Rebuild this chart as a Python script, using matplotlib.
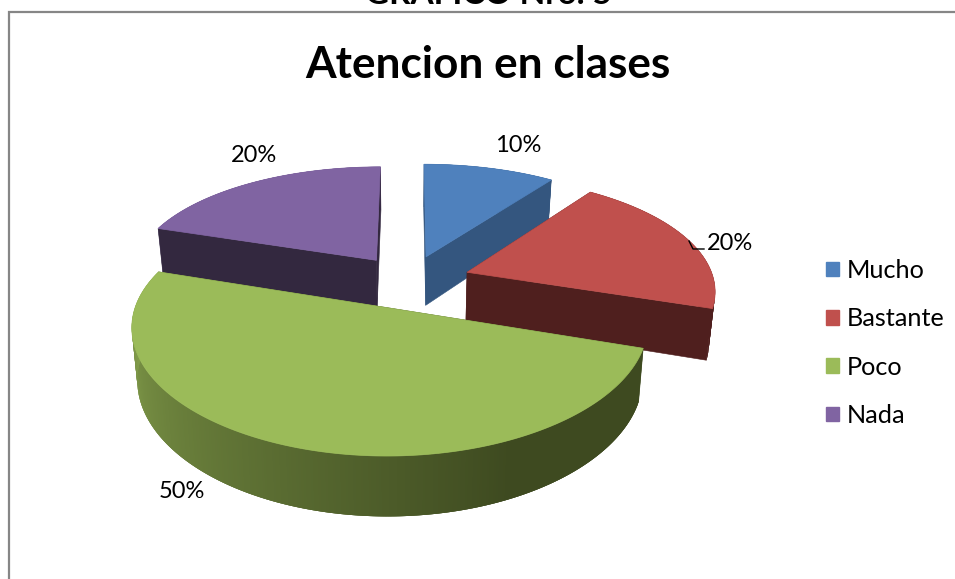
import numpy as np
import matplotlib
matplotlib.use('Agg')
import matplotlib.pyplot as plt
from matplotlib.patches import Patch, Polygon

# --- datos del grafico ---
categorias = ['Mucho', 'Bastante', 'Poco', 'Nada']
valores = [10, 20, 50, 20]
etiquetas = ['10%', '20%', '50%', '20%']
titulo = 'Atencion en clases'
encabezado = 'GRAFICO Nro. 5'

# --- estilos ---
colores = ['#4f81bd', '#c0504d', '#9bbb59', '#8064a2']
colores_cara = ['#34567f', '#4f1f1e', '#3e4a20', '#33283f']
explosion = [0.23, 0.25, 0.24, 0.23]
pos_etiquetas = [(518, 146), (730, 243), (182, 491), (254, 156)]
FUENTE = 'Lato'

# --- proyeccion del pastel (perspectiva simple), en pixeles ---
X0, Y0 = 409, 281
RX, RY = 247, 114.5
KX, KY = 0.14, 0.16
ALTO = 50
TAPER = 0.02


def proyectar(u, v, z=0.0):
    px = X0 + RX * u / (1 + KX * v) * (1 - TAPER * z)
    py = Y0 - RY * v / (1 + KY * v) + z * ALTO / (1 + KX * v)
    return np.column_stack([px, py])


def color_pared(hex_color, cara, theta):
    # pared exterior: clara a la izquierda, oscura desde abajo a la derecha
    t = np.clip((theta - 155) / (275 - 155), 0, 1)
    base = np.array(matplotlib.colors.to_rgb(hex_color))
    osc = np.array(matplotlib.colors.to_rgb(cara))
    return osc + (base * 0.86 - osc) * t


fig = plt.figure(figsize=(9.55, 5.79), dpi=100)
ax = fig.add_axes([0, 0, 1, 1])
ax.set_xlim(0, 955)
ax.set_ylim(579, 0)
ax.axis('off')

# marco del grafico
ax.plot([9, 9, 955], [579, 12, 12], color='#868686', lw=1.6, solid_joinstyle='miter')

fracciones = np.array(valores) / sum(valores) * 360
finales = np.cumsum(fracciones)
iniciales = finales - fracciones

# orden de atras hacia adelante
for i in [3, 0, 1, 2]:
    t0, t1 = iniciales[i], finales[i]
    medio = np.radians((t0 + t1) / 2)
    du, dv = explosion[i] * np.sin(medio), explosion[i] * np.cos(medio)
    thetas = np.linspace(t0, t1, 361)
    u = du + np.sin(np.radians(thetas))
    v = dv + np.cos(np.radians(thetas))

    # pared exterior con degradado, cada tramo pisa al siguiente para evitar rayas
    arriba = proyectar(u, v)
    abajo = proyectar(u, v, 1.0)
    for j in range(len(thetas) - 1):
        fin = min(j + 4, len(thetas))
        cuad = np.vstack([arriba[j:fin], abajo[j:fin][::-1]])
        c = color_pared(colores[i], colores_cara[i], thetas[j])
        ax.add_patch(Polygon(cuad, closed=True, fc=c, ec='none'))

    # caras radiales
    for k in [0, -1]:
        uu = np.array([du, u[k]])
        vv = np.array([dv, v[k]])
        cara_sup = proyectar(uu, vv)
        cara_inf = proyectar(uu, vv, 1.0)
        ax.add_patch(Polygon(np.vstack([cara_sup, cara_inf[::-1]]), closed=True,
                             fc=colores_cara[i], ec=colores_cara[i], lw=0.4))

    # tapa
    tapa = np.vstack([proyectar(np.array([du]), np.array([dv])), arriba])
    ax.add_patch(Polygon(tapa, closed=True, fc=colores[i], ec=colores[i], lw=0.5))

# textos
ax.text(488, 4, encabezado, ha='center', va='baseline', fontsize=24, fontweight='bold',
        family=FUENTE, color='black')
ax.text(488, 65, titulo, ha='center', va='center', fontsize=31.8, fontweight='bold',
        family=FUENTE, color='black')
for etq, (px, py) in zip(etiquetas, pos_etiquetas):
    ax.text(px, py, etq, ha='center', va='center', fontsize=17, family=FUENTE, color='black')

# linea guia de la etiqueta de Bastante
ax.plot([689, 693, 704], [241, 249, 249], color='black', lw=1.0)

# leyenda
handles = [Patch(fc=c, ec=c) for c in colores]
ax.legend(handles, categorias, loc='upper left', bbox_to_anchor=(826 / 955, 1 - 259 / 579),
          frameon=False, prop={'family': FUENTE, 'size': 18.2}, handlelength=0.51, handleheight=0.51,
          handletextpad=0.32, labelspacing=1.0, borderpad=0, borderaxespad=0)

fig.savefig('out.png', dpi=100, facecolor='white')
plt.close(fig)
